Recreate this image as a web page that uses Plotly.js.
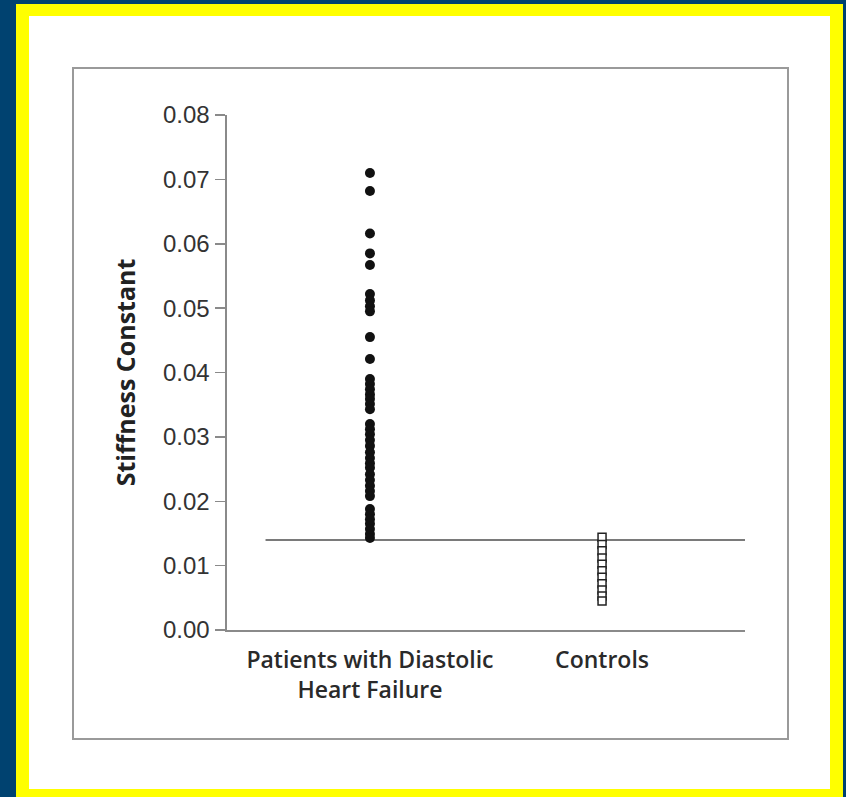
<!DOCTYPE html>
<html>
<head>
<meta charset="utf-8">
<script src="https://cdn.plot.ly/plotly-3.0.1.min.js"></script>
<style>
  html, body { margin: 0; padding: 0; }
  body { width: 846px; height: 797px; background: #004270; position: relative; overflow: hidden; }
  #band { position: absolute; left: 16px; top: 4px; width: 827px; height: 793px; background: #ffff00; }
  #sheet { position: absolute; left: 29px; top: 16px; width: 801px; height: 773px; background: #ffffff; }
  #frame { position: absolute; left: 72px; top: 67px; width: 713px; height: 669px; border: 2px solid #9a9a9a; }
  #chart { position: absolute; left: 0; top: 0; width: 846px; height: 797px; }
</style>
</head>
<body>
<div id="band"></div>
<div id="sheet"></div>
<div id="frame"></div>
<div id="chart"></div>
<script>
// Group labels and positions on the x axis
const groupLabels = ['Patients with Diastolic<br>Heart Failure', 'Controls'];
const groupPositions = [1, 2];

// Stiffness constant, patients with diastolic heart failure
const patientValues = [
  0.0710, 0.0682, 0.0616, 0.0585, 0.0567,
  0.0522, 0.0512, 0.0503, 0.0495,
  0.0455, 0.0421,
  0.0390, 0.0382, 0.0374, 0.0366, 0.0359, 0.0351, 0.0343,
  0.0320, 0.0312, 0.0304, 0.0295, 0.0286, 0.0276, 0.0267,
  0.0259, 0.0252, 0.0242, 0.0233, 0.0224, 0.0216, 0.0208,
  0.0188, 0.0180, 0.0172, 0.0165, 0.0157, 0.0149, 0.0143
];

// Stiffness constant, controls
const controlValues = [
  0.0144, 0.0133, 0.0123, 0.0112, 0.0102, 0.0092,
  0.0082, 0.0072, 0.0062, 0.0053, 0.0045
];

// Cut-off separating the two groups
const cutoffValue = 0.014;
const cutoffStart = 0.55;

const yTicks = [0, 0.01, 0.02, 0.03, 0.04, 0.05, 0.06, 0.07, 0.08];
const yTickText = ['0.00', '0.01', '0.02', '0.03', '0.04', '0.05', '0.06', '0.07', '0.08'];

const traces = [
  {
    type: 'scatter', mode: 'markers',
    x: patientValues.map(() => groupPositions[0]),
    y: patientValues,
    marker: { symbol: 'circle', size: 10, color: '#111111', line: { width: 0 } },
    hoverinfo: 'y', showlegend: false
  },
  {
    type: 'scatter', mode: 'markers',
    x: controlValues.map(() => groupPositions[1]),
    y: controlValues,
    marker: { symbol: 'square', size: 8, color: '#ffffff', line: { width: 1.5, color: '#222222' } },
    hoverinfo: 'y', showlegend: false
  }
];

const layout = {
  width: 846, height: 797,
  paper_bgcolor: 'rgba(0,0,0,0)',
  plot_bgcolor: 'rgba(0,0,0,0)',
  margin: { l: 227, r: 101, t: 115, b: 167 },
  font: { family: 'Open Sans, Liberation Sans, sans-serif', color: '#333333' },
  xaxis: {
    range: [0.384, 2.616],
    tickvals: groupPositions,
    ticktext: groupLabels,
    ticks: '',
    ticklabelstandoff: 8,
    showgrid: false, zeroline: false,
    showline: true, linecolor: '#8a8a8a', linewidth: 2,
    tickfont: { family: 'Open Sans, sans-serif', size: 23, color: '#2a2a2a', weight: 600 },
    fixedrange: true
  },
  yaxis: {
    range: [0, 0.08],
    tickvals: yTicks,
    ticktext: yTickText,
    ticks: 'outside', ticklen: 10, tickwidth: 1.5, tickcolor: '#8a8a8a',
    showgrid: false, zeroline: false,
    showline: true, linecolor: '#8a8a8a', linewidth: 2.5,
    tickfont: { family: 'Liberation Sans Narrow, Liberation Sans, sans-serif', size: 24, color: '#333333' },
    title: {
      text: 'Stiffness Constant',
      font: { family: 'Open Sans, sans-serif', size: 25, color: '#222222', weight: 700 },
      standoff: 20
    },
    fixedrange: true
  },
  shapes: [
    {
      type: 'line', xref: 'x', yref: 'y',
      x0: cutoffStart, x1: 2.616, y0: cutoffValue, y1: cutoffValue,
      line: { color: '#7a7a7a', width: 2 },
      layer: 'below'
    }
  ]
};

Plotly.newPlot('chart', traces, layout, { displayModeBar: false, staticPlot: true });
</script>
</body>
</html>
